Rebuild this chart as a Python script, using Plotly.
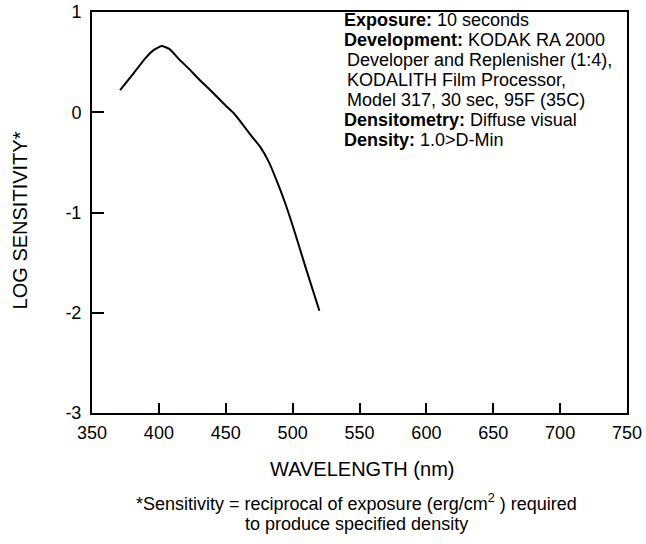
import plotly.graph_objects as go

# Data
wavelength = [371, 380, 390, 396, 402, 408, 415, 422, 430, 440, 450, 456, 462, 470, 476, 482, 488, 494, 500, 510, 520]
log_sens = [0.22, 0.37, 0.54, 0.62, 0.66, 0.63, 0.53, 0.44, 0.33, 0.20, 0.065, -0.01, -0.11, -0.25, -0.35, -0.49, -0.68, -0.89, -1.13, -1.56, -1.98]

x_ticks = [350, 400, 450, 500, 550, 600, 650, 700, 750]
y_ticks = [-3, -2, -1, 0, 1]

info_lines = [
    "<b>Exposure:</b> 10 seconds",
    "<b>Development:</b> KODAK RA 2000",
    "Developer and Replenisher (1:4),",
    "KODALITH Film Processor,",
    "Model 317, 30 sec, 95F (35C)",
    "<b>Densitometry:</b> Diffuse visual",
    "<b>Density:</b> 1.0>D-Min",
]
info_indent = [0, 0, 1, 1, 1, 0, 0]

foot_lines = [
    "*Sensitivity = reciprocal of exposure (erg/cm<sup>2</sup> ) required",
    "to produce specified density",
]

FONT = "Arial, 'Liberation Sans', sans-serif"

W, H = 646, 544
PL, PR, PT, PB = 92.3, 627, 12, 413.5
pw, ph = PR - PL, PB - PT


def px(xs):
    return (xs - PL) / pw


def py(ys):
    return 1 - (ys - PT) / ph


fig = go.Figure()
fig.add_trace(go.Scatter(
    x=wavelength, y=log_sens, mode="lines",
    line=dict(color="black", width=2, shape="spline", smoothing=0.5),
    showlegend=False, hoverinfo="skip",
))

fig.update_layout(
    width=W, height=H,
    margin=dict(l=PL, r=W - PR, t=PT, b=H - PB, autoexpand=False),
    paper_bgcolor="white", plot_bgcolor="white",
    font=dict(family=FONT, color="black", size=18),
    xaxis=dict(
        range=[350, 750], tickvals=x_ticks, ticktext=[str(v) for v in x_ticks],
        ticks="inside", ticklen=10, tickwidth=2, tickcolor="black",
        showline=True, linecolor="black", linewidth=2, mirror=True,
        showgrid=False, zeroline=False, ticklabelstandoff=2,
        tickfont=dict(size=18, family=FONT),
    ),
    yaxis=dict(
        range=[-3, 1], tickvals=y_ticks, ticktext=[str(v) for v in y_ticks],
        ticks="inside", ticklen=12, tickwidth=2, tickcolor="black",
        showline=True, linecolor="black", linewidth=2, mirror=True,
        showgrid=False, zeroline=False, ticklabelstandoff=5,
        tickfont=dict(size=18, family=FONT),
    ),
)

# axis titles
fig.add_annotation(
    xref="paper", yref="paper", x=px(362), y=py(470),
    xanchor="center", yanchor="middle", showarrow=False,
    text="WAVELENGTH (nm)", font=dict(size=20, family=FONT),
)
fig.add_annotation(
    xref="paper", yref="paper", x=px(20), y=py(221),
    xanchor="center", yanchor="middle", showarrow=False, textangle=-90,
    text="LOG SENSITIVITY*", font=dict(size=20, family=FONT),
)

# info block
for i, (line, ind) in enumerate(zip(info_lines, info_indent)):
    fig.add_annotation(
        xref="paper", yref="paper", x=px(342 + 3.5 * ind), y=py(20 + 20 * i),
        xanchor="left", yanchor="middle", align="left", showarrow=False,
        text=line, font=dict(size=18, family=FONT),
    )

# footnote
for i, line in enumerate(foot_lines):
    fig.add_annotation(
        xref="paper", yref="paper", x=px(357), y=py(503 + 22 * i),
        xanchor="center", yanchor="middle", align="center", showarrow=False,
        text=line, font=dict(size=18, family=FONT),
    )

fig.write_html(
    "out.html",
    config={"displayModeBar": False},
    post_script="document.body.style.margin='0';document.body.style.overflow='hidden';",
)
